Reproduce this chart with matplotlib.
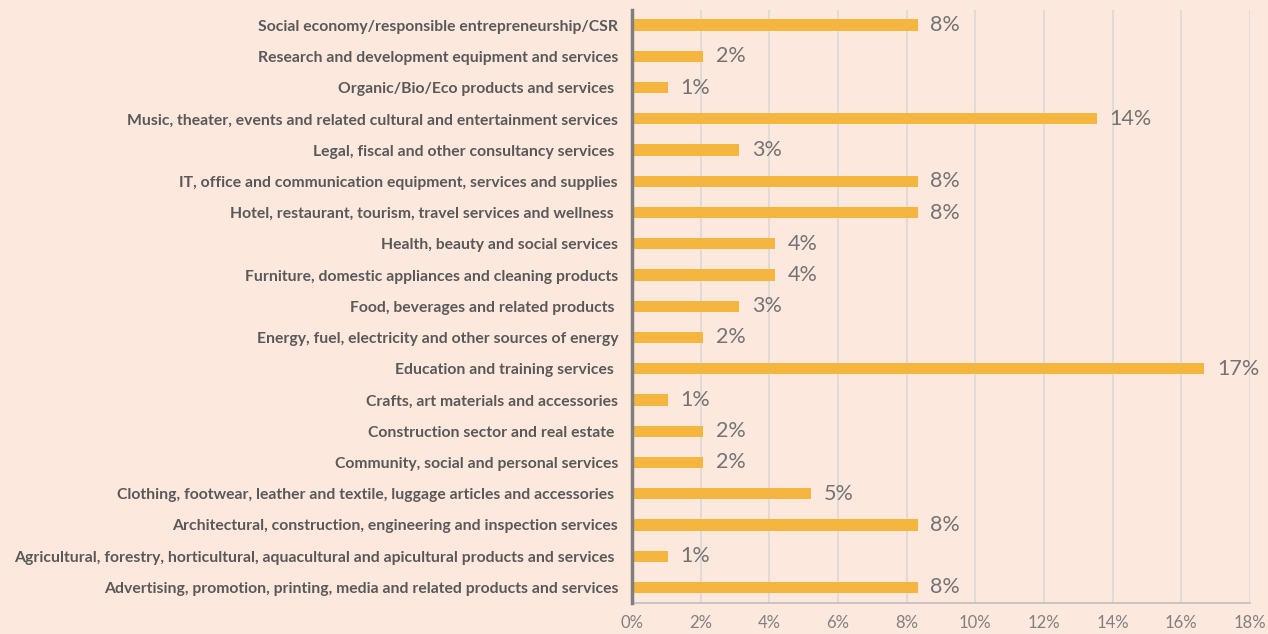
import matplotlib
matplotlib.use("Agg")
import matplotlib.pyplot as plt
from matplotlib.ticker import FuncFormatter

categories = [
    "Advertising, promotion, printing, media and related products and services",
    "Agricultural, forestry, horticultural, aquacultural and apicultural products and services ",
    "Architectural, construction, engineering and inspection services",
    "Clothing, footwear, leather and textile, luggage articles and accessories ",
    "Community, social and personal services",
    "Construction sector and real estate ",
    "Crafts, art materials and accessories",
    "Education and training services ",
    "Energy, fuel, electricity and other sources of energy",
    "Food, beverages and related products ",
    "Furniture, domestic appliances and cleaning products",
    "Health, beauty and social services",
    "Hotel, restaurant, tourism, travel services and wellness ",
    "IT, office and communication equipment, services and supplies",
    "Legal, fiscal and other consultancy services ",
    "Music, theater, events and related cultural and entertainment services",
    "Organic/Bio/Eco products and services ",
    "Research and development equipment and services",
    "Social economy/responsible entrepreneurship/CSR",
]
values = [8.33, 1.04, 8.33, 5.21, 2.08, 2.08, 1.04, 16.67, 2.08, 3.13,
          4.17, 4.17, 8.33, 8.33, 3.13, 13.54, 1.04, 2.08, 8.33]
value_labels = [f"{round(v)}%" for v in values]
x_ticks = [0, 2, 4, 6, 8, 10, 12, 14, 16, 18]

bg = "#FDE8DE"
bar_color = "#F5B63F"

fig = plt.figure(figsize=(12.68, 6.34), dpi=100, facecolor=bg)
ax = fig.add_axes([632/1268, 1-603/634, (1250-632)/1268, (603-9.5)/634])
ax.set_facecolor(bg)

y = list(range(len(categories)))
ax.barh(y, values, height=0.36, color=bar_color, zorder=3)
for yi, v, lab in zip(y, values, value_labels):
    ax.annotate(lab, (v, yi), xytext=(9, 0), textcoords="offset points",
                va="center", ha="left", fontsize=15.5, color="#737373",
                family="Lato")

ax.set_xlim(0, 18)
ax.set_ylim(len(categories) - 0.5, -0.5)
ax.invert_yaxis()
ax.set_yticks(y)
ax.set_yticklabels(categories, fontsize=11.3, fontweight="bold", color="#595959",
                   family="Lato")
ax.set_xticks(x_ticks)
ax.xaxis.set_major_formatter(FuncFormatter(lambda v, p: f"{int(v)}%"))
ax.tick_params(axis="x", length=0, labelsize=12, labelcolor="#808080", pad=9)
ax.tick_params(axis="y", length=0, pad=10)
for lab in ax.get_xticklabels():
    lab.set_family("Lato")
ax.grid(axis="x", color="#D9D9D9", linewidth=1.2, zorder=0)
ax.set_axisbelow(True)
for s in ["top", "right"]:
    ax.spines[s].set_visible(False)
ax.spines["left"].set_color("#7F7F7F")
ax.spines["left"].set_linewidth(2.5)
ax.spines["left"].set_zorder(4)
ax.spines["bottom"].set_color("#BFBFBF")
ax.spines["bottom"].set_linewidth(1.2)

fig.savefig("out.png", dpi=100, facecolor=bg)
